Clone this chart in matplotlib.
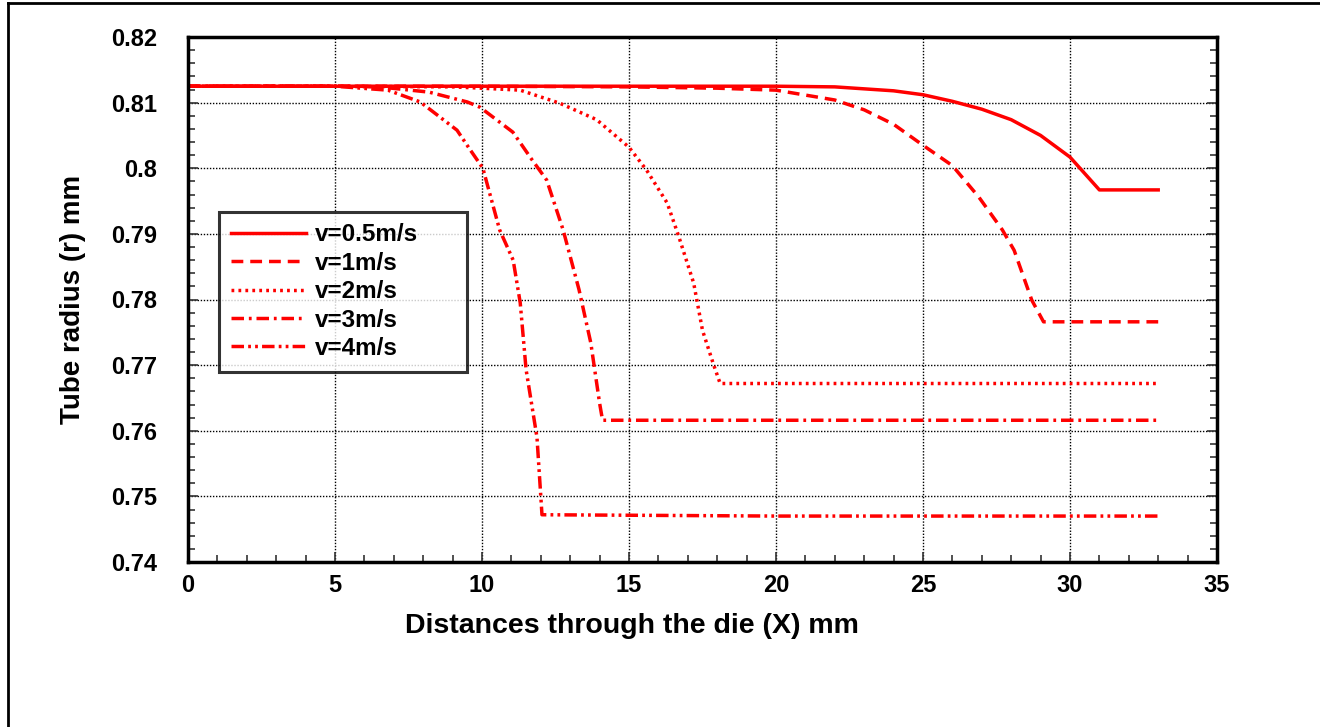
import matplotlib
matplotlib.use("Agg")
import matplotlib.pyplot as plt
from matplotlib.lines import Line2D
from matplotlib.ticker import MultipleLocator

plt.rcParams['font.family'] = ['Liberation Sans', 'DejaVu Sans']
plt.rcParams['font.weight'] = 'bold'
plt.rcParams['lines.scale_dashes'] = False

# ---- data ----
labels = ["v=0.5m/s", "v=1m/s", "v=2m/s", "v=3m/s", "v=4m/s"]

v05_x = [0, 5, 10, 15, 20, 22, 24, 25, 26, 27, 28, 29, 30, 31, 32, 33]
v05_r = [0.8125, 0.8125, 0.8125, 0.8125, 0.8125, 0.8124, 0.8118, 0.8112, 0.8102,
         0.8090, 0.8074, 0.8050, 0.8017, 0.7967, 0.7967, 0.7967]

v1_x = [0, 5, 10, 15, 18, 20, 22, 23, 24, 25, 26, 26.9, 27.7, 28.1, 28.7, 29.1, 30, 33]
v1_r = [0.8125, 0.8125, 0.8125, 0.8124, 0.8122, 0.8119, 0.8104, 0.8089, 0.8067,
        0.8035, 0.8004, 0.7956, 0.7906, 0.7875, 0.7799, 0.7766, 0.7766, 0.7766]

v2_x = [0, 5, 9, 10, 11.3, 12.65, 13.9, 15.0, 15.6, 16.3, 16.7, 17.2, 17.5, 17.86, 18.1, 20, 25, 33]
v2_r = [0.8125, 0.8125, 0.8124, 0.8122, 0.8119, 0.8099, 0.8074, 0.8032, 0.7997,
        0.7947, 0.7895, 0.7825, 0.7753, 0.7703, 0.7672, 0.7672, 0.7672, 0.7672]

v3_x = [0, 5, 6.5, 8.2, 9.5, 9.93, 11.05, 11.7, 12.2, 12.76, 13.3, 13.7, 14.0, 14.1, 20, 33]
v3_r = [0.8125, 0.8125, 0.8124, 0.8116, 0.8101, 0.8093, 0.8055, 0.8013, 0.7982,
        0.7906, 0.7815, 0.7734, 0.7642, 0.7616, 0.7616, 0.7616]

v4_x = [0, 5, 6.8, 7.9, 9.15, 9.6, 10.03, 10.6, 11.06, 11.3, 11.5, 11.87, 12.04, 20, 33]
v4_r = [0.8125, 0.8125, 0.8119, 0.8101, 0.8058, 0.8028, 0.8000, 0.7906, 0.7860,
        0.7795, 0.7693, 0.7590, 0.7472, 0.7470, 0.7470]

x_ticks = [0, 5, 10, 15, 20, 25, 30, 35]
y_ticks = [0.74, 0.75, 0.76, 0.77, 0.78, 0.79, 0.8, 0.81, 0.82]
y_tick_labels = ["0.74", "0.75", "0.76", "0.77", "0.78", "0.79", "0.8", "0.81", "0.82"]

# ---- figure ----
fig = plt.figure(figsize=(13.2, 7.27), dpi=100)
ax = fig.add_axes([188 / 1320, 1 - 562 / 727, (1217 - 188) / 1320, (562 - 37) / 727])

red = "#ff0000"
lw = 2.5
styles = [
    dict(linestyle="-"),
    dict(linestyle=(0, (8.5, 5))),
    dict(linestyle=(0, (2, 3))),
    dict(linestyle=(0, (9, 3.5, 2, 3.5))),
    dict(linestyle=(0, (9, 3, 2, 3, 2, 3))),
]
series = [(v05_x, v05_r), (v1_x, v1_r), (v2_x, v2_r), (v3_x, v3_r), (v4_x, v4_r)]
for (xs, ys), lab, st in zip(series, labels, styles):
    ax.plot(xs, ys, color=red, lw=lw, label=lab, **st)

ax.set_xlim(0, 35)
ax.set_ylim(0.74, 0.82)
ax.set_xticks(x_ticks)
ax.set_yticks(y_ticks)
ax.set_yticklabels(y_tick_labels)
ax.xaxis.set_minor_locator(MultipleLocator(1))
ax.yaxis.set_minor_locator(MultipleLocator(0.002))

ax.grid(True, which="major", color="black", linestyle=(0, (1, 1.2)), linewidth=1.0)
ax.tick_params(which="both", direction="in", top=False, right=True, width=1.2, color="#333333")
ax.tick_params(which="major", length=7, labelsize=17, pad=9)
ax.tick_params(axis="y", which="major", pad=22)
ax.tick_params(which="minor", length=5)
for sp in ax.spines.values():
    sp.set_linewidth(2.5)
    sp.set_color("black")

ax.set_xlabel("Distances through the die (X) mm", fontsize=20.5, fontweight="bold", labelpad=11)
ax.xaxis.label.set_x((632 - 188) / 1029)
ax.set_ylabel("Tube radius (r) mm", fontsize=20, fontweight="bold", labelpad=18)

leg = ax.legend(loc="upper left", bbox_to_anchor=(0.030, 0.362, 0.241, 0.305), mode="expand",
                fontsize=17.5, frameon=True, fancybox=False, handlelength=3.1,
                handletextpad=0.38, labelspacing=0.22, borderpad=0.48, borderaxespad=0.0)
leg.get_frame().set_edgecolor("black")
leg.get_frame().set_linewidth(2.2)
for t in leg.get_texts():
    t.set_fontweight("bold")

# outer border (left and top edges visible)
fig.add_artist(Line2D([8 / 1320, 8 / 1320], [0, 1 - 3 / 727], transform=fig.transFigure,
                      color="black", lw=2))
fig.add_artist(Line2D([8 / 1320, 1], [1 - 3 / 727, 1 - 3 / 727], transform=fig.transFigure,
                      color="black", lw=2))

fig.savefig("out.png", dpi=100)
